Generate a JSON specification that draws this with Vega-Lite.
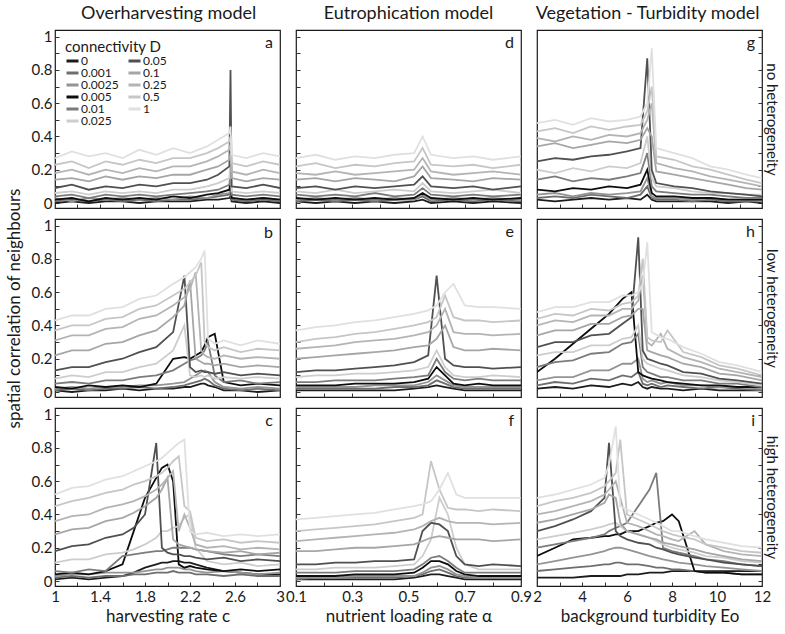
{
"$schema":"https://vega.github.io/schema/vega-lite/v6.json",
"padding":{"left":4,"top":5,"right":3,"bottom":2},
"config":{"font":"Lato","view":{"stroke":"#1a1a1a","strokeWidth":1.2},
"axis":{"grid":false,"domain":false,"tickSize":-4,"tickColor":"#333","labelPadding":7,"labelFontSize":15,"labelColor":"#1a1a1a","titleFontSize":17,"titleFontWeight":"normal","titleColor":"#1a1a1a","labelFlush":false,"labelOverlap":false},
"title":{"fontWeight":"normal","fontSize":18,"color":"#1a1a1a","offset":6}},
"datasets":{
"a":[
{"s":0,"x":1,"y":0},{"s":0,"x":1.15,"y":0.01},{"s":0,"x":1.3,"y":0},{"s":0,"x":1.45,"y":0.01},{"s":0,"x":1.6,"y":0.01},{"s":0,"x":1.75,"y":0},{"s":0,"x":1.9,"y":0.01},{"s":0,"x":2.05,"y":0.01},{"s":0,"x":2.2,"y":0.01},{"s":0,"x":2.35,"y":0.02},{"s":0,"x":2.45,"y":0.02},{"s":0,"x":2.55,"y":0.03},{"s":0,"x":2.56,"y":0.04},{"s":0,"x":2.57,"y":0.01},{"s":0,"x":2.7,"y":0},{"s":0,"x":2.85,"y":0.01},{"s":0,"x":3,"y":0},
{"s":1,"x":1,"y":0.01},{"s":1,"x":1.15,"y":0.02},{"s":1,"x":1.3,"y":0.01},{"s":1,"x":1.45,"y":0.02},{"s":1,"x":1.6,"y":0.01},{"s":1,"x":1.75,"y":0.02},{"s":1,"x":1.9,"y":0.01},{"s":1,"x":2.05,"y":0.02},{"s":1,"x":2.2,"y":0.02},{"s":1,"x":2.35,"y":0.03},{"s":1,"x":2.45,"y":0.04},{"s":1,"x":2.55,"y":0.05},{"s":1,"x":2.56,"y":0.07},{"s":1,"x":2.57,"y":0.02},{"s":1,"x":2.7,"y":0.01},{"s":1,"x":2.85,"y":0.02},{"s":1,"x":3,"y":0.01},
{"s":2,"x":1,"y":0.03},{"s":2,"x":1.15,"y":0.01},{"s":2,"x":1.3,"y":0.03},{"s":2,"x":1.45,"y":0.02},{"s":2,"x":1.6,"y":0.03},{"s":2,"x":1.75,"y":0.02},{"s":2,"x":1.9,"y":0.03},{"s":2,"x":2.05,"y":0.02},{"s":2,"x":2.2,"y":0.04},{"s":2,"x":2.35,"y":0.03},{"s":2,"x":2.45,"y":0.05},{"s":2,"x":2.55,"y":0.06},{"s":2,"x":2.56,"y":0.1},{"s":2,"x":2.57,"y":0.03},{"s":2,"x":2.7,"y":0.02},{"s":2,"x":2.85,"y":0.03},{"s":2,"x":3,"y":0.02},
{"s":3,"x":1,"y":0.02},{"s":3,"x":1.15,"y":0.03},{"s":3,"x":1.3,"y":0.01},{"s":3,"x":1.45,"y":0.03},{"s":3,"x":1.6,"y":0.02},{"s":3,"x":1.75,"y":0.03},{"s":3,"x":1.9,"y":0.02},{"s":3,"x":2.05,"y":0.04},{"s":3,"x":2.2,"y":0.03},{"s":3,"x":2.35,"y":0.05},{"s":3,"x":2.45,"y":0.06},{"s":3,"x":2.55,"y":0.08},{"s":3,"x":2.56,"y":0.14},{"s":3,"x":2.57,"y":0.03},{"s":3,"x":2.7,"y":0.02},{"s":3,"x":2.85,"y":0.03},{"s":3,"x":3,"y":0.02},
{"s":4,"x":1,"y":0.04},{"s":4,"x":1.15,"y":0.05},{"s":4,"x":1.3,"y":0.03},{"s":4,"x":1.45,"y":0.05},{"s":4,"x":1.6,"y":0.04},{"s":4,"x":1.75,"y":0.05},{"s":4,"x":1.9,"y":0.04},{"s":4,"x":2.05,"y":0.05},{"s":4,"x":2.2,"y":0.06},{"s":4,"x":2.35,"y":0.07},{"s":4,"x":2.45,"y":0.08},{"s":4,"x":2.55,"y":0.11},{"s":4,"x":2.56,"y":0.18},{"s":4,"x":2.57,"y":0.05},{"s":4,"x":2.7,"y":0.04},{"s":4,"x":2.85,"y":0.05},{"s":4,"x":3,"y":0.04},
{"s":5,"x":1,"y":0.06},{"s":5,"x":1.15,"y":0.07},{"s":5,"x":1.3,"y":0.05},{"s":5,"x":1.45,"y":0.07},{"s":5,"x":1.6,"y":0.06},{"s":5,"x":1.75,"y":0.07},{"s":5,"x":1.9,"y":0.06},{"s":5,"x":2.05,"y":0.08},{"s":5,"x":2.2,"y":0.08},{"s":5,"x":2.35,"y":0.1},{"s":5,"x":2.45,"y":0.12},{"s":5,"x":2.55,"y":0.15},{"s":5,"x":2.56,"y":0.25},{"s":5,"x":2.57,"y":0.07},{"s":5,"x":2.7,"y":0.06},{"s":5,"x":2.85,"y":0.07},{"s":5,"x":3,"y":0.06},
{"s":6,"x":1,"y":0.09},{"s":6,"x":1.15,"y":0.11},{"s":6,"x":1.3,"y":0.08},{"s":6,"x":1.45,"y":0.1},{"s":6,"x":1.6,"y":0.09},{"s":6,"x":1.75,"y":0.11},{"s":6,"x":1.9,"y":0.1},{"s":6,"x":2.05,"y":0.12},{"s":6,"x":2.2,"y":0.12},{"s":6,"x":2.35,"y":0.14},{"s":6,"x":2.45,"y":0.17},{"s":6,"x":2.55,"y":0.22},{"s":6,"x":2.56,"y":0.8},{"s":6,"x":2.57,"y":0.1},{"s":6,"x":2.7,"y":0.09},{"s":6,"x":2.85,"y":0.11},{"s":6,"x":3,"y":0.09},
{"s":7,"x":1,"y":0.14},{"s":7,"x":1.15,"y":0.15},{"s":7,"x":1.3,"y":0.13},{"s":7,"x":1.45,"y":0.16},{"s":7,"x":1.6,"y":0.14},{"s":7,"x":1.75,"y":0.16},{"s":7,"x":1.9,"y":0.15},{"s":7,"x":2.05,"y":0.17},{"s":7,"x":2.2,"y":0.17},{"s":7,"x":2.35,"y":0.2},{"s":7,"x":2.45,"y":0.22},{"s":7,"x":2.55,"y":0.26},{"s":7,"x":2.56,"y":0.3},{"s":7,"x":2.57,"y":0.15},{"s":7,"x":2.7,"y":0.13},{"s":7,"x":2.85,"y":0.15},{"s":7,"x":3,"y":0.14},
{"s":8,"x":1,"y":0.18},{"s":8,"x":1.15,"y":0.2},{"s":8,"x":1.3,"y":0.17},{"s":8,"x":1.45,"y":0.2},{"s":8,"x":1.6,"y":0.18},{"s":8,"x":1.75,"y":0.21},{"s":8,"x":1.9,"y":0.19},{"s":8,"x":2.05,"y":0.22},{"s":8,"x":2.2,"y":0.22},{"s":8,"x":2.35,"y":0.25},{"s":8,"x":2.45,"y":0.28},{"s":8,"x":2.55,"y":0.32},{"s":8,"x":2.56,"y":0.36},{"s":8,"x":2.57,"y":0.19},{"s":8,"x":2.7,"y":0.17},{"s":8,"x":2.85,"y":0.2},{"s":8,"x":3,"y":0.18},
{"s":9,"x":1,"y":0.23},{"s":9,"x":1.15,"y":0.25},{"s":9,"x":1.3,"y":0.21},{"s":9,"x":1.45,"y":0.25},{"s":9,"x":1.6,"y":0.23},{"s":9,"x":1.75,"y":0.26},{"s":9,"x":1.9,"y":0.24},{"s":9,"x":2.05,"y":0.27},{"s":9,"x":2.2,"y":0.27},{"s":9,"x":2.35,"y":0.3},{"s":9,"x":2.45,"y":0.33},{"s":9,"x":2.55,"y":0.37},{"s":9,"x":2.56,"y":0.4},{"s":9,"x":2.57,"y":0.24},{"s":9,"x":2.7,"y":0.22},{"s":9,"x":2.85,"y":0.25},{"s":9,"x":3,"y":0.23},
{"s":10,"x":1,"y":0.27},{"s":10,"x":1.15,"y":0.31},{"s":10,"x":1.3,"y":0.28},{"s":10,"x":1.45,"y":0.3},{"s":10,"x":1.6,"y":0.27},{"s":10,"x":1.75,"y":0.32},{"s":10,"x":1.9,"y":0.29},{"s":10,"x":2.05,"y":0.33},{"s":10,"x":2.2,"y":0.3},{"s":10,"x":2.35,"y":0.34},{"s":10,"x":2.45,"y":0.38},{"s":10,"x":2.55,"y":0.42},{"s":10,"x":2.56,"y":0.46},{"s":10,"x":2.57,"y":0.29},{"s":10,"x":2.7,"y":0.27},{"s":10,"x":2.85,"y":0.3},{"s":10,"x":3,"y":0.28}
],
"d":[
{"s":0,"x":0.1,"y":0.01},{"s":0,"x":0.17,"y":0},{"s":0,"x":0.24,"y":0.01},{"s":0,"x":0.31,"y":0},{"s":0,"x":0.38,"y":0.01},{"s":0,"x":0.45,"y":0},{"s":0,"x":0.52,"y":0.01},{"s":0,"x":0.55,"y":0.02},{"s":0,"x":0.58,"y":0},{"s":0,"x":0.66,"y":0.01},{"s":0,"x":0.73,"y":0},{"s":0,"x":0.8,"y":0.01},{"s":0,"x":0.9,"y":0},
{"s":1,"x":0.1,"y":0.01},{"s":1,"x":0.17,"y":0.02},{"s":1,"x":0.24,"y":0.01},{"s":1,"x":0.31,"y":0.02},{"s":1,"x":0.38,"y":0.01},{"s":1,"x":0.45,"y":0.02},{"s":1,"x":0.52,"y":0.02},{"s":1,"x":0.55,"y":0.04},{"s":1,"x":0.58,"y":0.01},{"s":1,"x":0.66,"y":0.02},{"s":1,"x":0.73,"y":0.01},{"s":1,"x":0.8,"y":0.02},{"s":1,"x":0.9,"y":0.01},
{"s":2,"x":0.1,"y":0.02},{"s":2,"x":0.17,"y":0.03},{"s":2,"x":0.24,"y":0.02},{"s":2,"x":0.31,"y":0.03},{"s":2,"x":0.38,"y":0.02},{"s":2,"x":0.45,"y":0.03},{"s":2,"x":0.52,"y":0.02},{"s":2,"x":0.55,"y":0.05},{"s":2,"x":0.58,"y":0.02},{"s":2,"x":0.66,"y":0.03},{"s":2,"x":0.73,"y":0.02},{"s":2,"x":0.8,"y":0.03},{"s":2,"x":0.9,"y":0.02},
{"s":3,"x":0.1,"y":0.03},{"s":3,"x":0.17,"y":0.02},{"s":3,"x":0.24,"y":0.03},{"s":3,"x":0.31,"y":0.02},{"s":3,"x":0.38,"y":0.03},{"s":3,"x":0.45,"y":0.02},{"s":3,"x":0.52,"y":0.03},{"s":3,"x":0.55,"y":0.06},{"s":3,"x":0.58,"y":0.03},{"s":3,"x":0.66,"y":0.02},{"s":3,"x":0.73,"y":0.03},{"s":3,"x":0.8,"y":0.02},{"s":3,"x":0.9,"y":0.03},
{"s":4,"x":0.1,"y":0.05},{"s":4,"x":0.17,"y":0.04},{"s":4,"x":0.24,"y":0.05},{"s":4,"x":0.31,"y":0.04},{"s":4,"x":0.38,"y":0.06},{"s":4,"x":0.45,"y":0.04},{"s":4,"x":0.52,"y":0.05},{"s":4,"x":0.55,"y":0.09},{"s":4,"x":0.58,"y":0.05},{"s":4,"x":0.66,"y":0.04},{"s":4,"x":0.73,"y":0.05},{"s":4,"x":0.8,"y":0.04},{"s":4,"x":0.9,"y":0.05},
{"s":5,"x":0.1,"y":0.07},{"s":5,"x":0.17,"y":0.06},{"s":5,"x":0.24,"y":0.08},{"s":5,"x":0.31,"y":0.06},{"s":5,"x":0.38,"y":0.07},{"s":5,"x":0.45,"y":0.08},{"s":5,"x":0.52,"y":0.07},{"s":5,"x":0.55,"y":0.12},{"s":5,"x":0.58,"y":0.07},{"s":5,"x":0.66,"y":0.06},{"s":5,"x":0.73,"y":0.07},{"s":5,"x":0.8,"y":0.08},{"s":5,"x":0.9,"y":0.06},
{"s":6,"x":0.1,"y":0.09},{"s":6,"x":0.17,"y":0.1},{"s":6,"x":0.24,"y":0.08},{"s":6,"x":0.31,"y":0.1},{"s":6,"x":0.38,"y":0.09},{"s":6,"x":0.45,"y":0.1},{"s":6,"x":0.52,"y":0.11},{"s":6,"x":0.55,"y":0.16},{"s":6,"x":0.58,"y":0.1},{"s":6,"x":0.66,"y":0.09},{"s":6,"x":0.73,"y":0.1},{"s":6,"x":0.8,"y":0.08},{"s":6,"x":0.9,"y":0.1},
{"s":7,"x":0.1,"y":0.14},{"s":7,"x":0.17,"y":0.15},{"s":7,"x":0.24,"y":0.13},{"s":7,"x":0.31,"y":0.15},{"s":7,"x":0.38,"y":0.14},{"s":7,"x":0.45,"y":0.13},{"s":7,"x":0.52,"y":0.16},{"s":7,"x":0.55,"y":0.22},{"s":7,"x":0.58,"y":0.15},{"s":7,"x":0.66,"y":0.14},{"s":7,"x":0.73,"y":0.13},{"s":7,"x":0.8,"y":0.15},{"s":7,"x":0.9,"y":0.14},
{"s":8,"x":0.1,"y":0.18},{"s":8,"x":0.17,"y":0.17},{"s":8,"x":0.24,"y":0.19},{"s":8,"x":0.31,"y":0.17},{"s":8,"x":0.38,"y":0.18},{"s":8,"x":0.45,"y":0.19},{"s":8,"x":0.52,"y":0.2},{"s":8,"x":0.55,"y":0.27},{"s":8,"x":0.58,"y":0.19},{"s":8,"x":0.66,"y":0.17},{"s":8,"x":0.73,"y":0.18},{"s":8,"x":0.8,"y":0.19},{"s":8,"x":0.9,"y":0.17},
{"s":9,"x":0.1,"y":0.22},{"s":9,"x":0.17,"y":0.24},{"s":9,"x":0.24,"y":0.21},{"s":9,"x":0.31,"y":0.23},{"s":9,"x":0.38,"y":0.22},{"s":9,"x":0.45,"y":0.24},{"s":9,"x":0.52,"y":0.25},{"s":9,"x":0.55,"y":0.33},{"s":9,"x":0.58,"y":0.23},{"s":9,"x":0.66,"y":0.22},{"s":9,"x":0.73,"y":0.23},{"s":9,"x":0.8,"y":0.21},{"s":9,"x":0.9,"y":0.23},
{"s":10,"x":0.1,"y":0.27},{"s":10,"x":0.17,"y":0.29},{"s":10,"x":0.24,"y":0.26},{"s":10,"x":0.31,"y":0.28},{"s":10,"x":0.38,"y":0.27},{"s":10,"x":0.45,"y":0.29},{"s":10,"x":0.52,"y":0.3},{"s":10,"x":0.55,"y":0.4},{"s":10,"x":0.58,"y":0.29},{"s":10,"x":0.66,"y":0.27},{"s":10,"x":0.73,"y":0.28},{"s":10,"x":0.8,"y":0.26},{"s":10,"x":0.9,"y":0.28}
],
"g":[
{"s":0,"x":2,"y":0.02},{"s":0,"x":2.8,"y":0.01},{"s":0,"x":3.6,"y":0.02},{"s":0,"x":4.4,"y":0.03},{"s":0,"x":5.2,"y":0.02},{"s":0,"x":6,"y":0.03},{"s":0,"x":6.6,"y":0.02},{"s":0,"x":6.9,"y":0.05},{"s":0,"x":7.1,"y":0.02},{"s":0,"x":7.3,"y":0.01},{"s":0,"x":8.1,"y":0.01},{"s":0,"x":8.9,"y":0.01},{"s":0,"x":9.7,"y":0.01},{"s":0,"x":10.5,"y":0},{"s":0,"x":11.3,"y":0.01},{"s":0,"x":12,"y":0},
{"s":1,"x":2,"y":0.03},{"s":1,"x":2.8,"y":0.04},{"s":1,"x":3.6,"y":0.03},{"s":1,"x":4.4,"y":0.05},{"s":1,"x":5.2,"y":0.04},{"s":1,"x":6,"y":0.03},{"s":1,"x":6.6,"y":0.05},{"s":1,"x":6.9,"y":0.1},{"s":1,"x":7.1,"y":0.03},{"s":1,"x":7.3,"y":0.02},{"s":1,"x":8.1,"y":0.02},{"s":1,"x":8.9,"y":0.01},{"s":1,"x":9.7,"y":0.02},{"s":1,"x":10.5,"y":0.01},{"s":1,"x":11.3,"y":0.01},{"s":1,"x":12,"y":0.01},
{"s":2,"x":2,"y":0.05},{"s":2,"x":2.8,"y":0.06},{"s":2,"x":3.6,"y":0.04},{"s":2,"x":4.4,"y":0.06},{"s":2,"x":5.2,"y":0.05},{"s":2,"x":6,"y":0.06},{"s":2,"x":6.6,"y":0.07},{"s":2,"x":6.9,"y":0.15},{"s":2,"x":7.1,"y":0.04},{"s":2,"x":7.3,"y":0.03},{"s":2,"x":8.1,"y":0.03},{"s":2,"x":8.9,"y":0.02},{"s":2,"x":9.7,"y":0.03},{"s":2,"x":10.5,"y":0.02},{"s":2,"x":11.3,"y":0.02},{"s":2,"x":12,"y":0.01},
{"s":3,"x":2,"y":0.08},{"s":3,"x":2.8,"y":0.07},{"s":3,"x":3.6,"y":0.09},{"s":3,"x":4.4,"y":0.08},{"s":3,"x":5.2,"y":0.1},{"s":3,"x":6,"y":0.09},{"s":3,"x":6.6,"y":0.11},{"s":3,"x":6.9,"y":0.2},{"s":3,"x":7.1,"y":0.06},{"s":3,"x":7.3,"y":0.04},{"s":3,"x":8.1,"y":0.04},{"s":3,"x":8.9,"y":0.03},{"s":3,"x":9.7,"y":0.03},{"s":3,"x":10.5,"y":0.02},{"s":3,"x":11.3,"y":0.02},{"s":3,"x":12,"y":0.02},
{"s":4,"x":2,"y":0.14},{"s":4,"x":2.8,"y":0.16},{"s":4,"x":3.6,"y":0.13},{"s":4,"x":4.4,"y":0.15},{"s":4,"x":5.2,"y":0.14},{"s":4,"x":6,"y":0.16},{"s":4,"x":6.6,"y":0.18},{"s":4,"x":6.9,"y":0.3},{"s":4,"x":7.1,"y":0.1},{"s":4,"x":7.3,"y":0.07},{"s":4,"x":8.1,"y":0.06},{"s":4,"x":8.9,"y":0.05},{"s":4,"x":9.7,"y":0.05},{"s":4,"x":10.5,"y":0.04},{"s":4,"x":11.3,"y":0.03},{"s":4,"x":12,"y":0.03},
{"s":5,"x":2,"y":0.2},{"s":5,"x":2.8,"y":0.18},{"s":5,"x":3.6,"y":0.21},{"s":5,"x":4.4,"y":0.19},{"s":5,"x":5.2,"y":0.22},{"s":5,"x":6,"y":0.21},{"s":5,"x":6.6,"y":0.24},{"s":5,"x":6.9,"y":0.4},{"s":5,"x":7.1,"y":0.15},{"s":5,"x":7.3,"y":0.1},{"s":5,"x":8.1,"y":0.09},{"s":5,"x":8.9,"y":0.07},{"s":5,"x":9.7,"y":0.06},{"s":5,"x":10.5,"y":0.06},{"s":5,"x":11.3,"y":0.05},{"s":5,"x":12,"y":0.05},
{"s":6,"x":2,"y":0.25},{"s":6,"x":2.8,"y":0.27},{"s":6,"x":3.6,"y":0.26},{"s":6,"x":4.4,"y":0.28},{"s":6,"x":5.2,"y":0.29},{"s":6,"x":6,"y":0.31},{"s":6,"x":6.6,"y":0.33},{"s":6,"x":6.9,"y":0.87},{"s":6,"x":7.1,"y":0.2},{"s":6,"x":7.3,"y":0.12},{"s":6,"x":8.1,"y":0.1},{"s":6,"x":8.9,"y":0.09},{"s":6,"x":9.7,"y":0.07},{"s":6,"x":10.5,"y":0.06},{"s":6,"x":11.3,"y":0.05},{"s":6,"x":12,"y":0.04},
{"s":7,"x":2,"y":0.34},{"s":7,"x":2.8,"y":0.36},{"s":7,"x":3.6,"y":0.33},{"s":7,"x":4.4,"y":0.35},{"s":7,"x":5.2,"y":0.37},{"s":7,"x":6,"y":0.36},{"s":7,"x":6.6,"y":0.38},{"s":7,"x":6.9,"y":0.45},{"s":7,"x":7.1,"y":0.4},{"s":7,"x":7.3,"y":0.19},{"s":7,"x":8.1,"y":0.17},{"s":7,"x":8.9,"y":0.15},{"s":7,"x":9.7,"y":0.13},{"s":7,"x":10.5,"y":0.11},{"s":7,"x":11.3,"y":0.09},{"s":7,"x":12,"y":0.08},
{"s":8,"x":2,"y":0.39},{"s":8,"x":2.8,"y":0.37},{"s":8,"x":3.6,"y":0.4},{"s":8,"x":4.4,"y":0.38},{"s":8,"x":5.2,"y":0.41},{"s":8,"x":6,"y":0.4},{"s":8,"x":6.6,"y":0.42},{"s":8,"x":6.9,"y":0.5},{"s":8,"x":7.1,"y":0.6},{"s":8,"x":7.3,"y":0.24},{"s":8,"x":8.1,"y":0.21},{"s":8,"x":8.9,"y":0.19},{"s":8,"x":9.7,"y":0.16},{"s":8,"x":10.5,"y":0.14},{"s":8,"x":11.3,"y":0.12},{"s":8,"x":12,"y":0.1},
{"s":9,"x":2,"y":0.43},{"s":9,"x":2.8,"y":0.45},{"s":9,"x":3.6,"y":0.42},{"s":9,"x":4.4,"y":0.46},{"s":9,"x":5.2,"y":0.44},{"s":9,"x":6,"y":0.46},{"s":9,"x":6.6,"y":0.47},{"s":9,"x":6.9,"y":0.55},{"s":9,"x":7.1,"y":0.7},{"s":9,"x":7.3,"y":0.28},{"s":9,"x":8.1,"y":0.26},{"s":9,"x":8.9,"y":0.22},{"s":9,"x":9.7,"y":0.2},{"s":9,"x":10.5,"y":0.17},{"s":9,"x":11.3,"y":0.14},{"s":9,"x":12,"y":0.12},
{"s":10,"x":2,"y":0.48},{"s":10,"x":2.8,"y":0.5},{"s":10,"x":3.6,"y":0.47},{"s":10,"x":4.4,"y":0.51},{"s":10,"x":5.2,"y":0.49},{"s":10,"x":6,"y":0.5},{"s":10,"x":6.6,"y":0.52},{"s":10,"x":6.9,"y":0.6},{"s":10,"x":7.1,"y":0.93},{"s":10,"x":7.3,"y":0.33},{"s":10,"x":8.1,"y":0.3},{"s":10,"x":8.9,"y":0.27},{"s":10,"x":9.7,"y":0.22},{"s":10,"x":10.5,"y":0.2},{"s":10,"x":11.3,"y":0.17},{"s":10,"x":12,"y":0.15}
],
"b":[
{"s":0,"x":1,"y":0.01},{"s":0,"x":1.15,"y":0},{"s":0,"x":1.3,"y":0.01},{"s":0,"x":1.45,"y":0.01},{"s":0,"x":1.6,"y":0.02},{"s":0,"x":1.75,"y":0.01},{"s":0,"x":1.9,"y":0.02},{"s":0,"x":2.05,"y":0.02},{"s":0,"x":2.15,"y":0.03},{"s":0,"x":2.2,"y":0.03},{"s":0,"x":2.25,"y":0.04},{"s":0,"x":2.3,"y":0.05},{"s":0,"x":2.33,"y":0.05},{"s":0,"x":2.36,"y":0.04},{"s":0,"x":2.42,"y":0.03},{"s":0,"x":2.5,"y":0.01},{"s":0,"x":2.65,"y":0.01},{"s":0,"x":2.8,"y":0},{"s":0,"x":3,"y":0.01},
{"s":1,"x":1,"y":0.01},{"s":1,"x":1.15,"y":0.02},{"s":1,"x":1.3,"y":0.01},{"s":1,"x":1.45,"y":0.02},{"s":1,"x":1.6,"y":0.02},{"s":1,"x":1.75,"y":0.03},{"s":1,"x":1.9,"y":0.02},{"s":1,"x":2.05,"y":0.03},{"s":1,"x":2.15,"y":0.04},{"s":1,"x":2.2,"y":0.05},{"s":1,"x":2.25,"y":0.06},{"s":1,"x":2.3,"y":0.07},{"s":1,"x":2.33,"y":0.08},{"s":1,"x":2.36,"y":0.07},{"s":1,"x":2.42,"y":0.04},{"s":1,"x":2.5,"y":0.02},{"s":1,"x":2.65,"y":0.01},{"s":1,"x":2.8,"y":0.02},{"s":1,"x":3,"y":0.01},
{"s":2,"x":1,"y":0.02},{"s":2,"x":1.15,"y":0.03},{"s":2,"x":1.3,"y":0.02},{"s":2,"x":1.45,"y":0.03},{"s":2,"x":1.6,"y":0.03},{"s":2,"x":1.75,"y":0.04},{"s":2,"x":1.9,"y":0.04},{"s":2,"x":2.05,"y":0.05},{"s":2,"x":2.15,"y":0.06},{"s":2,"x":2.2,"y":0.08},{"s":2,"x":2.25,"y":0.1},{"s":2,"x":2.3,"y":0.12},{"s":2,"x":2.33,"y":0.13},{"s":2,"x":2.36,"y":0.12},{"s":2,"x":2.42,"y":0.06},{"s":2,"x":2.5,"y":0.03},{"s":2,"x":2.65,"y":0.02},{"s":2,"x":2.8,"y":0.03},{"s":2,"x":3,"y":0.02},
{"s":3,"x":1,"y":0.03},{"s":3,"x":1.15,"y":0.02},{"s":3,"x":1.3,"y":0.04},{"s":3,"x":1.45,"y":0.03},{"s":3,"x":1.6,"y":0.04},{"s":3,"x":1.75,"y":0.03},{"s":3,"x":1.9,"y":0.05},{"s":3,"x":2.05,"y":0.2},{"s":3,"x":2.15,"y":0.21},{"s":3,"x":2.2,"y":0.2},{"s":3,"x":2.25,"y":0.22},{"s":3,"x":2.3,"y":0.24},{"s":3,"x":2.33,"y":0.28},{"s":3,"x":2.36,"y":0.33},{"s":3,"x":2.42,"y":0.35},{"s":3,"x":2.5,"y":0.06},{"s":3,"x":2.65,"y":0.04},{"s":3,"x":2.8,"y":0.05},{"s":3,"x":3,"y":0.04},
{"s":4,"x":1,"y":0.05},{"s":4,"x":1.15,"y":0.06},{"s":4,"x":1.3,"y":0.05},{"s":4,"x":1.45,"y":0.07},{"s":4,"x":1.6,"y":0.07},{"s":4,"x":1.75,"y":0.09},{"s":4,"x":1.9,"y":0.1},{"s":4,"x":2.05,"y":0.13},{"s":4,"x":2.15,"y":0.17},{"s":4,"x":2.2,"y":0.19},{"s":4,"x":2.25,"y":0.2},{"s":4,"x":2.3,"y":0.22},{"s":4,"x":2.33,"y":0.25},{"s":4,"x":2.36,"y":0.3},{"s":4,"x":2.42,"y":0.1},{"s":4,"x":2.5,"y":0.06},{"s":4,"x":2.65,"y":0.07},{"s":4,"x":2.8,"y":0.05},{"s":4,"x":3,"y":0.06},
{"s":5,"x":1,"y":0.08},{"s":5,"x":1.15,"y":0.1},{"s":5,"x":1.3,"y":0.09},{"s":5,"x":1.45,"y":0.12},{"s":5,"x":1.6,"y":0.12},{"s":5,"x":1.75,"y":0.15},{"s":5,"x":1.9,"y":0.17},{"s":5,"x":2.05,"y":0.25},{"s":5,"x":2.15,"y":0.4},{"s":5,"x":2.2,"y":0.1},{"s":5,"x":2.25,"y":0.09},{"s":5,"x":2.3,"y":0.1},{"s":5,"x":2.33,"y":0.09},{"s":5,"x":2.36,"y":0.1},{"s":5,"x":2.42,"y":0.08},{"s":5,"x":2.5,"y":0.09},{"s":5,"x":2.65,"y":0.08},{"s":5,"x":2.8,"y":0.09},{"s":5,"x":3,"y":0.08},
{"s":6,"x":1,"y":0.13},{"s":6,"x":1.15,"y":0.15},{"s":6,"x":1.3,"y":0.15},{"s":6,"x":1.45,"y":0.18},{"s":6,"x":1.6,"y":0.2},{"s":6,"x":1.75,"y":0.24},{"s":6,"x":1.9,"y":0.27},{"s":6,"x":2.05,"y":0.36},{"s":6,"x":2.15,"y":0.7},{"s":6,"x":2.2,"y":0.15},{"s":6,"x":2.25,"y":0.12},{"s":6,"x":2.3,"y":0.13},{"s":6,"x":2.33,"y":0.12},{"s":6,"x":2.36,"y":0.12},{"s":6,"x":2.42,"y":0.11},{"s":6,"x":2.5,"y":0.12},{"s":6,"x":2.65,"y":0.1},{"s":6,"x":2.8,"y":0.11},{"s":6,"x":3,"y":0.1},
{"s":7,"x":1,"y":0.22},{"s":7,"x":1.15,"y":0.25},{"s":7,"x":1.3,"y":0.25},{"s":7,"x":1.45,"y":0.29},{"s":7,"x":1.6,"y":0.3},{"s":7,"x":1.75,"y":0.34},{"s":7,"x":1.9,"y":0.37},{"s":7,"x":2.05,"y":0.45},{"s":7,"x":2.15,"y":0.52},{"s":7,"x":2.2,"y":0.67},{"s":7,"x":2.25,"y":0.2},{"s":7,"x":2.3,"y":0.18},{"s":7,"x":2.33,"y":0.17},{"s":7,"x":2.36,"y":0.17},{"s":7,"x":2.42,"y":0.16},{"s":7,"x":2.5,"y":0.17},{"s":7,"x":2.65,"y":0.15},{"s":7,"x":2.8,"y":0.16},{"s":7,"x":3,"y":0.15},
{"s":8,"x":1,"y":0.31},{"s":8,"x":1.15,"y":0.34},{"s":8,"x":1.3,"y":0.34},{"s":8,"x":1.45,"y":0.38},{"s":8,"x":1.6,"y":0.39},{"s":8,"x":1.75,"y":0.44},{"s":8,"x":1.9,"y":0.46},{"s":8,"x":2.05,"y":0.52},{"s":8,"x":2.15,"y":0.57},{"s":8,"x":2.2,"y":0.62},{"s":8,"x":2.25,"y":0.72},{"s":8,"x":2.3,"y":0.25},{"s":8,"x":2.33,"y":0.22},{"s":8,"x":2.36,"y":0.21},{"s":8,"x":2.42,"y":0.2},{"s":8,"x":2.5,"y":0.22},{"s":8,"x":2.65,"y":0.2},{"s":8,"x":2.8,"y":0.21},{"s":8,"x":3,"y":0.2},
{"s":9,"x":1,"y":0.37},{"s":9,"x":1.15,"y":0.4},{"s":9,"x":1.3,"y":0.4},{"s":9,"x":1.45,"y":0.44},{"s":9,"x":1.6,"y":0.45},{"s":9,"x":1.75,"y":0.5},{"s":9,"x":1.9,"y":0.52},{"s":9,"x":2.05,"y":0.58},{"s":9,"x":2.15,"y":0.62},{"s":9,"x":2.2,"y":0.66},{"s":9,"x":2.25,"y":0.7},{"s":9,"x":2.3,"y":0.78},{"s":9,"x":2.33,"y":0.3},{"s":9,"x":2.36,"y":0.27},{"s":9,"x":2.42,"y":0.25},{"s":9,"x":2.5,"y":0.27},{"s":9,"x":2.65,"y":0.24},{"s":9,"x":2.8,"y":0.26},{"s":9,"x":3,"y":0.25},
{"s":10,"x":1,"y":0.43},{"s":10,"x":1.15,"y":0.46},{"s":10,"x":1.3,"y":0.46},{"s":10,"x":1.45,"y":0.5},{"s":10,"x":1.6,"y":0.51},{"s":10,"x":1.75,"y":0.56},{"s":10,"x":1.9,"y":0.58},{"s":10,"x":2.05,"y":0.65},{"s":10,"x":2.15,"y":0.69},{"s":10,"x":2.2,"y":0.72},{"s":10,"x":2.25,"y":0.75},{"s":10,"x":2.3,"y":0.8},{"s":10,"x":2.33,"y":0.85},{"s":10,"x":2.36,"y":0.32},{"s":10,"x":2.42,"y":0.29},{"s":10,"x":2.5,"y":0.31},{"s":10,"x":2.65,"y":0.28},{"s":10,"x":2.8,"y":0.31},{"s":10,"x":3,"y":0.29}
],
"e":[
{"s":0,"x":0.1,"y":0.01},{"s":0,"x":0.17,"y":0.01},{"s":0,"x":0.24,"y":0.01},{"s":0,"x":0.31,"y":0.01},{"s":0,"x":0.38,"y":0.01},{"s":0,"x":0.45,"y":0.01},{"s":0,"x":0.52,"y":0.02},{"s":0,"x":0.57,"y":0.03},{"s":0,"x":0.6,"y":0.04},{"s":0,"x":0.63,"y":0.03},{"s":0,"x":0.66,"y":0.02},{"s":0,"x":0.7,"y":0.01},{"s":0,"x":0.75,"y":0.01},{"s":0,"x":0.8,"y":0.01},{"s":0,"x":0.9,"y":0.01},
{"s":1,"x":0.1,"y":0.02},{"s":1,"x":0.17,"y":0.02},{"s":1,"x":0.24,"y":0.02},{"s":1,"x":0.31,"y":0.02},{"s":1,"x":0.38,"y":0.02},{"s":1,"x":0.45,"y":0.03},{"s":1,"x":0.52,"y":0.03},{"s":1,"x":0.57,"y":0.04},{"s":1,"x":0.6,"y":0.07},{"s":1,"x":0.63,"y":0.05},{"s":1,"x":0.66,"y":0.03},{"s":1,"x":0.7,"y":0.02},{"s":1,"x":0.75,"y":0.02},{"s":1,"x":0.8,"y":0.02},{"s":1,"x":0.9,"y":0.02},
{"s":2,"x":0.1,"y":0.03},{"s":2,"x":0.17,"y":0.03},{"s":2,"x":0.24,"y":0.03},{"s":2,"x":0.31,"y":0.03},{"s":2,"x":0.38,"y":0.04},{"s":2,"x":0.45,"y":0.04},{"s":2,"x":0.52,"y":0.04},{"s":2,"x":0.57,"y":0.06},{"s":2,"x":0.6,"y":0.1},{"s":2,"x":0.63,"y":0.07},{"s":2,"x":0.66,"y":0.04},{"s":2,"x":0.7,"y":0.03},{"s":2,"x":0.75,"y":0.03},{"s":2,"x":0.8,"y":0.03},{"s":2,"x":0.9,"y":0.03},
{"s":3,"x":0.1,"y":0.04},{"s":3,"x":0.17,"y":0.04},{"s":3,"x":0.24,"y":0.04},{"s":3,"x":0.31,"y":0.05},{"s":3,"x":0.38,"y":0.05},{"s":3,"x":0.45,"y":0.05},{"s":3,"x":0.52,"y":0.06},{"s":3,"x":0.57,"y":0.08},{"s":3,"x":0.6,"y":0.15},{"s":3,"x":0.63,"y":0.1},{"s":3,"x":0.66,"y":0.05},{"s":3,"x":0.7,"y":0.04},{"s":3,"x":0.75,"y":0.05},{"s":3,"x":0.8,"y":0.04},{"s":3,"x":0.9,"y":0.04},
{"s":4,"x":0.1,"y":0.06},{"s":4,"x":0.17,"y":0.06},{"s":4,"x":0.24,"y":0.07},{"s":4,"x":0.31,"y":0.07},{"s":4,"x":0.38,"y":0.07},{"s":4,"x":0.45,"y":0.08},{"s":4,"x":0.52,"y":0.09},{"s":4,"x":0.57,"y":0.1},{"s":4,"x":0.6,"y":0.2},{"s":4,"x":0.63,"y":0.12},{"s":4,"x":0.66,"y":0.08},{"s":4,"x":0.7,"y":0.07},{"s":4,"x":0.75,"y":0.08},{"s":4,"x":0.8,"y":0.07},{"s":4,"x":0.9,"y":0.07},
{"s":5,"x":0.1,"y":0.09},{"s":5,"x":0.17,"y":0.1},{"s":5,"x":0.24,"y":0.1},{"s":5,"x":0.31,"y":0.11},{"s":5,"x":0.38,"y":0.11},{"s":5,"x":0.45,"y":0.12},{"s":5,"x":0.52,"y":0.13},{"s":5,"x":0.57,"y":0.15},{"s":5,"x":0.6,"y":0.25},{"s":5,"x":0.63,"y":0.15},{"s":5,"x":0.66,"y":0.1},{"s":5,"x":0.7,"y":0.09},{"s":5,"x":0.75,"y":0.09},{"s":5,"x":0.8,"y":0.1},{"s":5,"x":0.9,"y":0.09},
{"s":6,"x":0.1,"y":0.12},{"s":6,"x":0.17,"y":0.13},{"s":6,"x":0.24,"y":0.13},{"s":6,"x":0.31,"y":0.14},{"s":6,"x":0.38,"y":0.15},{"s":6,"x":0.45,"y":0.16},{"s":6,"x":0.52,"y":0.18},{"s":6,"x":0.57,"y":0.22},{"s":6,"x":0.6,"y":0.7},{"s":6,"x":0.63,"y":0.2},{"s":6,"x":0.66,"y":0.16},{"s":6,"x":0.7,"y":0.15},{"s":6,"x":0.75,"y":0.15},{"s":6,"x":0.8,"y":0.14},{"s":6,"x":0.9,"y":0.15},
{"s":7,"x":0.1,"y":0.2},{"s":7,"x":0.17,"y":0.21},{"s":7,"x":0.24,"y":0.22},{"s":7,"x":0.31,"y":0.23},{"s":7,"x":0.38,"y":0.24},{"s":7,"x":0.45,"y":0.25},{"s":7,"x":0.52,"y":0.27},{"s":7,"x":0.57,"y":0.28},{"s":7,"x":0.6,"y":0.32},{"s":7,"x":0.63,"y":0.4},{"s":7,"x":0.66,"y":0.27},{"s":7,"x":0.7,"y":0.25},{"s":7,"x":0.75,"y":0.25},{"s":7,"x":0.8,"y":0.26},{"s":7,"x":0.9,"y":0.25},
{"s":8,"x":0.1,"y":0.26},{"s":8,"x":0.17,"y":0.27},{"s":8,"x":0.24,"y":0.28},{"s":8,"x":0.31,"y":0.3},{"s":8,"x":0.38,"y":0.31},{"s":8,"x":0.45,"y":0.32},{"s":8,"x":0.52,"y":0.34},{"s":8,"x":0.57,"y":0.36},{"s":8,"x":0.6,"y":0.4},{"s":8,"x":0.63,"y":0.5},{"s":8,"x":0.66,"y":0.36},{"s":8,"x":0.7,"y":0.35},{"s":8,"x":0.75,"y":0.35},{"s":8,"x":0.8,"y":0.34},{"s":8,"x":0.9,"y":0.35},
{"s":9,"x":0.1,"y":0.3},{"s":9,"x":0.17,"y":0.32},{"s":9,"x":0.24,"y":0.33},{"s":9,"x":0.31,"y":0.35},{"s":9,"x":0.38,"y":0.36},{"s":9,"x":0.45,"y":0.38},{"s":9,"x":0.52,"y":0.4},{"s":9,"x":0.57,"y":0.42},{"s":9,"x":0.6,"y":0.45},{"s":9,"x":0.63,"y":0.58},{"s":9,"x":0.66,"y":0.45},{"s":9,"x":0.7,"y":0.43},{"s":9,"x":0.75,"y":0.43},{"s":9,"x":0.8,"y":0.42},{"s":9,"x":0.9,"y":0.43},
{"s":10,"x":0.1,"y":0.37},{"s":10,"x":0.17,"y":0.39},{"s":10,"x":0.24,"y":0.4},{"s":10,"x":0.31,"y":0.42},{"s":10,"x":0.38,"y":0.43},{"s":10,"x":0.45,"y":0.45},{"s":10,"x":0.52,"y":0.47},{"s":10,"x":0.57,"y":0.49},{"s":10,"x":0.6,"y":0.52},{"s":10,"x":0.63,"y":0.6},{"s":10,"x":0.66,"y":0.65},{"s":10,"x":0.7,"y":0.52},{"s":10,"x":0.75,"y":0.51},{"s":10,"x":0.8,"y":0.51},{"s":10,"x":0.9,"y":0.5}
],
"h":[
{"s":0,"x":2,"y":0.02},{"s":0,"x":2.8,"y":0.03},{"s":0,"x":3.6,"y":0.02},{"s":0,"x":4.4,"y":0.04},{"s":0,"x":5.2,"y":0.03},{"s":0,"x":5.8,"y":0.05},{"s":0,"x":6.2,"y":0.04},{"s":0,"x":6.5,"y":0.06},{"s":0,"x":6.7,"y":0.03},{"s":0,"x":6.9,"y":0.02},{"s":0,"x":7.1,"y":0.03},{"s":0,"x":7.5,"y":0.02},{"s":0,"x":7.8,"y":0.02},{"s":0,"x":8.5,"y":0.01},{"s":0,"x":9.3,"y":0.02},{"s":0,"x":10.1,"y":0.01},{"s":0,"x":10.9,"y":0.01},{"s":0,"x":12,"y":0.01},
{"s":1,"x":2,"y":0.04},{"s":1,"x":2.8,"y":0.06},{"s":1,"x":3.6,"y":0.05},{"s":1,"x":4.4,"y":0.08},{"s":1,"x":5.2,"y":0.07},{"s":1,"x":5.8,"y":0.1},{"s":1,"x":6.2,"y":0.09},{"s":1,"x":6.5,"y":0.12},{"s":1,"x":6.7,"y":0.05},{"s":1,"x":6.9,"y":0.04},{"s":1,"x":7.1,"y":0.05},{"s":1,"x":7.5,"y":0.03},{"s":1,"x":7.8,"y":0.04},{"s":1,"x":8.5,"y":0.03},{"s":1,"x":9.3,"y":0.02},{"s":1,"x":10.1,"y":0.03},{"s":1,"x":10.9,"y":0.02},{"s":1,"x":12,"y":0.01},
{"s":2,"x":2,"y":0.07},{"s":2,"x":2.8,"y":0.09},{"s":2,"x":3.6,"y":0.09},{"s":2,"x":4.4,"y":0.13},{"s":2,"x":5.2,"y":0.13},{"s":2,"x":5.8,"y":0.17},{"s":2,"x":6.2,"y":0.17},{"s":2,"x":6.5,"y":0.2},{"s":2,"x":6.7,"y":0.08},{"s":2,"x":6.9,"y":0.06},{"s":2,"x":7.1,"y":0.07},{"s":2,"x":7.5,"y":0.05},{"s":2,"x":7.8,"y":0.06},{"s":2,"x":8.5,"y":0.04},{"s":2,"x":9.3,"y":0.04},{"s":2,"x":10.1,"y":0.03},{"s":2,"x":10.9,"y":0.03},{"s":2,"x":12,"y":0.02},
{"s":3,"x":2,"y":0.12},{"s":3,"x":2.8,"y":0.2},{"s":3,"x":3.6,"y":0.29},{"s":3,"x":4.4,"y":0.38},{"s":3,"x":5.2,"y":0.47},{"s":3,"x":5.8,"y":0.56},{"s":3,"x":6.2,"y":0.6},{"s":3,"x":6.5,"y":0.12},{"s":3,"x":6.7,"y":0.1},{"s":3,"x":6.9,"y":0.09},{"s":3,"x":7.1,"y":0.08},{"s":3,"x":7.5,"y":0.07},{"s":3,"x":7.8,"y":0.06},{"s":3,"x":8.5,"y":0.05},{"s":3,"x":9.3,"y":0.04},{"s":3,"x":10.1,"y":0.04},{"s":3,"x":10.9,"y":0.03},{"s":3,"x":12,"y":0.03},
{"s":4,"x":2,"y":0.15},{"s":4,"x":2.8,"y":0.18},{"s":4,"x":3.6,"y":0.19},{"s":4,"x":4.4,"y":0.23},{"s":4,"x":5.2,"y":0.24},{"s":4,"x":5.8,"y":0.29},{"s":4,"x":6.2,"y":0.3},{"s":4,"x":6.5,"y":0.35},{"s":4,"x":6.7,"y":0.15},{"s":4,"x":6.9,"y":0.12},{"s":4,"x":7.1,"y":0.11},{"s":4,"x":7.5,"y":0.09},{"s":4,"x":7.8,"y":0.09},{"s":4,"x":8.5,"y":0.07},{"s":4,"x":9.3,"y":0.07},{"s":4,"x":10.1,"y":0.05},{"s":4,"x":10.9,"y":0.05},{"s":4,"x":12,"y":0.03},
{"s":5,"x":2,"y":0.22},{"s":5,"x":2.8,"y":0.24},{"s":5,"x":3.6,"y":0.24},{"s":5,"x":4.4,"y":0.28},{"s":5,"x":5.2,"y":0.28},{"s":5,"x":5.8,"y":0.32},{"s":5,"x":6.2,"y":0.33},{"s":5,"x":6.5,"y":0.4},{"s":5,"x":6.7,"y":0.2},{"s":5,"x":6.9,"y":0.17},{"s":5,"x":7.1,"y":0.16},{"s":5,"x":7.5,"y":0.14},{"s":5,"x":7.8,"y":0.13},{"s":5,"x":8.5,"y":0.1},{"s":5,"x":9.3,"y":0.09},{"s":5,"x":10.1,"y":0.07},{"s":5,"x":10.9,"y":0.06},{"s":5,"x":12,"y":0.04},
{"s":6,"x":2,"y":0.27},{"s":6,"x":2.8,"y":0.3},{"s":6,"x":3.6,"y":0.3},{"s":6,"x":4.4,"y":0.34},{"s":6,"x":5.2,"y":0.35},{"s":6,"x":5.8,"y":0.41},{"s":6,"x":6.2,"y":0.45},{"s":6,"x":6.5,"y":0.93},{"s":6,"x":6.7,"y":0.25},{"s":6,"x":6.9,"y":0.2},{"s":6,"x":7.1,"y":0.19},{"s":6,"x":7.5,"y":0.17},{"s":6,"x":7.8,"y":0.16},{"s":6,"x":8.5,"y":0.12},{"s":6,"x":9.3,"y":0.11},{"s":6,"x":10.1,"y":0.08},{"s":6,"x":10.9,"y":0.07},{"s":6,"x":12,"y":0.05},
{"s":7,"x":2,"y":0.34},{"s":7,"x":2.8,"y":0.37},{"s":7,"x":3.6,"y":0.37},{"s":7,"x":4.4,"y":0.41},{"s":7,"x":5.2,"y":0.41},{"s":7,"x":5.8,"y":0.45},{"s":7,"x":6.2,"y":0.46},{"s":7,"x":6.5,"y":0.5},{"s":7,"x":6.7,"y":0.5},{"s":7,"x":6.9,"y":0.25},{"s":7,"x":7.1,"y":0.24},{"s":7,"x":7.5,"y":0.22},{"s":7,"x":7.8,"y":0.21},{"s":7,"x":8.5,"y":0.17},{"s":7,"x":9.3,"y":0.15},{"s":7,"x":10.1,"y":0.11},{"s":7,"x":10.9,"y":0.1},{"s":7,"x":12,"y":0.07},
{"s":8,"x":2,"y":0.4},{"s":8,"x":2.8,"y":0.43},{"s":8,"x":3.6,"y":0.42},{"s":8,"x":4.4,"y":0.46},{"s":8,"x":5.2,"y":0.46},{"s":8,"x":5.8,"y":0.5},{"s":8,"x":6.2,"y":0.5},{"s":8,"x":6.5,"y":0.55},{"s":8,"x":6.7,"y":0.7},{"s":8,"x":6.9,"y":0.3},{"s":8,"x":7.1,"y":0.28},{"s":8,"x":7.5,"y":0.35},{"s":8,"x":7.8,"y":0.26},{"s":8,"x":8.5,"y":0.21},{"s":8,"x":9.3,"y":0.18},{"s":8,"x":10.1,"y":0.14},{"s":8,"x":10.9,"y":0.12},{"s":8,"x":12,"y":0.09},
{"s":9,"x":2,"y":0.44},{"s":9,"x":2.8,"y":0.47},{"s":9,"x":3.6,"y":0.46},{"s":9,"x":4.4,"y":0.5},{"s":9,"x":5.2,"y":0.49},{"s":9,"x":5.8,"y":0.53},{"s":9,"x":6.2,"y":0.54},{"s":9,"x":6.5,"y":0.58},{"s":9,"x":6.7,"y":0.8},{"s":9,"x":6.9,"y":0.33},{"s":9,"x":7.1,"y":0.31},{"s":9,"x":7.5,"y":0.3},{"s":9,"x":7.8,"y":0.37},{"s":9,"x":8.5,"y":0.24},{"s":9,"x":9.3,"y":0.21},{"s":9,"x":10.1,"y":0.16},{"s":9,"x":10.9,"y":0.14},{"s":9,"x":12,"y":0.1},
{"s":10,"x":2,"y":0.48},{"s":10,"x":2.8,"y":0.51},{"s":10,"x":3.6,"y":0.51},{"s":10,"x":4.4,"y":0.54},{"s":10,"x":5.2,"y":0.54},{"s":10,"x":5.8,"y":0.58},{"s":10,"x":6.2,"y":0.58},{"s":10,"x":6.5,"y":0.6},{"s":10,"x":6.7,"y":0.65},{"s":10,"x":6.9,"y":0.9},{"s":10,"x":7.1,"y":0.36},{"s":10,"x":7.5,"y":0.33},{"s":10,"x":7.8,"y":0.32},{"s":10,"x":8.5,"y":0.27},{"s":10,"x":9.3,"y":0.23},{"s":10,"x":10.1,"y":0.18},{"s":10,"x":10.9,"y":0.16},{"s":10,"x":12,"y":0.12}
],
"c":[
{"s":0,"x":1,"y":0.01},{"s":0,"x":1.15,"y":0.02},{"s":0,"x":1.3,"y":0.01},{"s":0,"x":1.45,"y":0.02},{"s":0,"x":1.6,"y":0.03},{"s":0,"x":1.7,"y":0.05},{"s":0,"x":1.8,"y":0.08},{"s":0,"x":1.9,"y":0.1},{"s":0,"x":1.95,"y":0.11},{"s":0,"x":2,"y":0.11},{"s":0,"x":2.05,"y":0.12},{"s":0,"x":2.1,"y":0.12},{"s":0,"x":2.15,"y":0.11},{"s":0,"x":2.2,"y":0.11},{"s":0,"x":2.25,"y":0.1},{"s":0,"x":2.35,"y":0.08},{"s":0,"x":2.5,"y":0.06},{"s":0,"x":2.65,"y":0.05},{"s":0,"x":2.8,"y":0.04},{"s":0,"x":3,"y":0.04},
{"s":1,"x":1,"y":0.02},{"s":1,"x":1.15,"y":0.03},{"s":1,"x":1.3,"y":0.02},{"s":1,"x":1.45,"y":0.03},{"s":1,"x":1.6,"y":0.03},{"s":1,"x":1.7,"y":0.04},{"s":1,"x":1.8,"y":0.04},{"s":1,"x":1.9,"y":0.05},{"s":1,"x":1.95,"y":0.05},{"s":1,"x":2,"y":0.05},{"s":1,"x":2.05,"y":0.06},{"s":1,"x":2.1,"y":0.05},{"s":1,"x":2.15,"y":0.05},{"s":1,"x":2.2,"y":0.05},{"s":1,"x":2.25,"y":0.04},{"s":1,"x":2.35,"y":0.04},{"s":1,"x":2.5,"y":0.03},{"s":1,"x":2.65,"y":0.04},{"s":1,"x":2.8,"y":0.03},{"s":1,"x":3,"y":0.03},
{"s":2,"x":1,"y":0.03},{"s":2,"x":1.15,"y":0.04},{"s":2,"x":1.3,"y":0.04},{"s":2,"x":1.45,"y":0.05},{"s":2,"x":1.6,"y":0.05},{"s":2,"x":1.7,"y":0.05},{"s":2,"x":1.8,"y":0.06},{"s":2,"x":1.9,"y":0.07},{"s":2,"x":1.95,"y":0.07},{"s":2,"x":2,"y":0.08},{"s":2,"x":2.05,"y":0.08},{"s":2,"x":2.1,"y":0.08},{"s":2,"x":2.15,"y":0.07},{"s":2,"x":2.2,"y":0.07},{"s":2,"x":2.25,"y":0.06},{"s":2,"x":2.35,"y":0.05},{"s":2,"x":2.5,"y":0.06},{"s":2,"x":2.65,"y":0.05},{"s":2,"x":2.8,"y":0.04},{"s":2,"x":3,"y":0.05},
{"s":3,"x":1,"y":0.04},{"s":3,"x":1.15,"y":0.05},{"s":3,"x":1.3,"y":0.04},{"s":3,"x":1.45,"y":0.06},{"s":3,"x":1.6,"y":0.1},{"s":3,"x":1.7,"y":0.3},{"s":3,"x":1.8,"y":0.5},{"s":3,"x":1.9,"y":0.62},{"s":3,"x":1.95,"y":0.68},{"s":3,"x":2,"y":0.7},{"s":3,"x":2.05,"y":0.6},{"s":3,"x":2.1,"y":0.1},{"s":3,"x":2.15,"y":0.08},{"s":3,"x":2.2,"y":0.09},{"s":3,"x":2.25,"y":0.08},{"s":3,"x":2.35,"y":0.07},{"s":3,"x":2.5,"y":0.06},{"s":3,"x":2.65,"y":0.07},{"s":3,"x":2.8,"y":0.06},{"s":3,"x":3,"y":0.07},
{"s":4,"x":1,"y":0.06},{"s":4,"x":1.15,"y":0.05},{"s":4,"x":1.3,"y":0.07},{"s":4,"x":1.45,"y":0.06},{"s":4,"x":1.6,"y":0.15},{"s":4,"x":1.7,"y":0.16},{"s":4,"x":1.8,"y":0.17},{"s":4,"x":1.9,"y":0.18},{"s":4,"x":1.95,"y":0.18},{"s":4,"x":2,"y":0.19},{"s":4,"x":2.05,"y":0.2},{"s":4,"x":2.1,"y":0.2},{"s":4,"x":2.15,"y":0.2},{"s":4,"x":2.2,"y":0.2},{"s":4,"x":2.25,"y":0.19},{"s":4,"x":2.35,"y":0.18},{"s":4,"x":2.5,"y":0.16},{"s":4,"x":2.65,"y":0.15},{"s":4,"x":2.8,"y":0.16},{"s":4,"x":3,"y":0.15},
{"s":5,"x":1,"y":0.11},{"s":5,"x":1.15,"y":0.13},{"s":5,"x":1.3,"y":0.13},{"s":5,"x":1.45,"y":0.16},{"s":5,"x":1.6,"y":0.17},{"s":5,"x":1.7,"y":0.19},{"s":5,"x":1.8,"y":0.22},{"s":5,"x":1.9,"y":0.26},{"s":5,"x":1.95,"y":0.3},{"s":5,"x":2,"y":0.3},{"s":5,"x":2.05,"y":0.32},{"s":5,"x":2.1,"y":0.33},{"s":5,"x":2.15,"y":0.38},{"s":5,"x":2.2,"y":0.4},{"s":5,"x":2.25,"y":0.2},{"s":5,"x":2.35,"y":0.12},{"s":5,"x":2.5,"y":0.1},{"s":5,"x":2.65,"y":0.11},{"s":5,"x":2.8,"y":0.09},{"s":5,"x":3,"y":0.1},
{"s":6,"x":1,"y":0.18},{"s":6,"x":1.15,"y":0.21},{"s":6,"x":1.3,"y":0.22},{"s":6,"x":1.45,"y":0.26},{"s":6,"x":1.6,"y":0.28},{"s":6,"x":1.7,"y":0.32},{"s":6,"x":1.8,"y":0.4},{"s":6,"x":1.9,"y":0.83},{"s":6,"x":1.95,"y":0.2},{"s":6,"x":2,"y":0.17},{"s":6,"x":2.05,"y":0.16},{"s":6,"x":2.1,"y":0.16},{"s":6,"x":2.15,"y":0.15},{"s":6,"x":2.2,"y":0.15},{"s":6,"x":2.25,"y":0.14},{"s":6,"x":2.35,"y":0.13},{"s":6,"x":2.5,"y":0.14},{"s":6,"x":2.65,"y":0.12},{"s":6,"x":2.8,"y":0.13},{"s":6,"x":3,"y":0.12},
{"s":7,"x":1,"y":0.28},{"s":7,"x":1.15,"y":0.31},{"s":7,"x":1.3,"y":0.32},{"s":7,"x":1.45,"y":0.36},{"s":7,"x":1.6,"y":0.38},{"s":7,"x":1.7,"y":0.41},{"s":7,"x":1.8,"y":0.45},{"s":7,"x":1.9,"y":0.5},{"s":7,"x":1.95,"y":0.55},{"s":7,"x":2,"y":0.62},{"s":7,"x":2.05,"y":0.25},{"s":7,"x":2.1,"y":0.22},{"s":7,"x":2.15,"y":0.21},{"s":7,"x":2.2,"y":0.2},{"s":7,"x":2.25,"y":0.19},{"s":7,"x":2.35,"y":0.18},{"s":7,"x":2.5,"y":0.17},{"s":7,"x":2.65,"y":0.18},{"s":7,"x":2.8,"y":0.16},{"s":7,"x":3,"y":0.17},
{"s":8,"x":1,"y":0.36},{"s":8,"x":1.15,"y":0.39},{"s":8,"x":1.3,"y":0.4},{"s":8,"x":1.45,"y":0.44},{"s":8,"x":1.6,"y":0.46},{"s":8,"x":1.7,"y":0.48},{"s":8,"x":1.8,"y":0.51},{"s":8,"x":1.9,"y":0.55},{"s":8,"x":1.95,"y":0.58},{"s":8,"x":2,"y":0.62},{"s":8,"x":2.05,"y":0.66},{"s":8,"x":2.1,"y":0.3},{"s":8,"x":2.15,"y":0.4},{"s":8,"x":2.2,"y":0.32},{"s":8,"x":2.25,"y":0.22},{"s":8,"x":2.35,"y":0.2},{"s":8,"x":2.5,"y":0.21},{"s":8,"x":2.65,"y":0.19},{"s":8,"x":2.8,"y":0.2},{"s":8,"x":3,"y":0.19},
{"s":9,"x":1,"y":0.45},{"s":9,"x":1.15,"y":0.48},{"s":9,"x":1.3,"y":0.5},{"s":9,"x":1.45,"y":0.53},{"s":9,"x":1.6,"y":0.55},{"s":9,"x":1.7,"y":0.58},{"s":9,"x":1.8,"y":0.6},{"s":9,"x":1.9,"y":0.63},{"s":9,"x":1.95,"y":0.65},{"s":9,"x":2,"y":0.68},{"s":9,"x":2.05,"y":0.72},{"s":9,"x":2.1,"y":0.75},{"s":9,"x":2.15,"y":0.45},{"s":9,"x":2.2,"y":0.42},{"s":9,"x":2.25,"y":0.26},{"s":9,"x":2.35,"y":0.24},{"s":9,"x":2.5,"y":0.25},{"s":9,"x":2.65,"y":0.23},{"s":9,"x":2.8,"y":0.24},{"s":9,"x":3,"y":0.23},
{"s":10,"x":1,"y":0.52},{"s":10,"x":1.15,"y":0.56},{"s":10,"x":1.3,"y":0.57},{"s":10,"x":1.45,"y":0.61},{"s":10,"x":1.6,"y":0.63},{"s":10,"x":1.7,"y":0.66},{"s":10,"x":1.8,"y":0.69},{"s":10,"x":1.9,"y":0.72},{"s":10,"x":1.95,"y":0.74},{"s":10,"x":2,"y":0.77},{"s":10,"x":2.05,"y":0.8},{"s":10,"x":2.1,"y":0.83},{"s":10,"x":2.15,"y":0.85},{"s":10,"x":2.2,"y":0.3},{"s":10,"x":2.25,"y":0.28},{"s":10,"x":2.35,"y":0.29},{"s":10,"x":2.5,"y":0.27},{"s":10,"x":2.65,"y":0.28},{"s":10,"x":2.8,"y":0.27},{"s":10,"x":3,"y":0.28}
],
"f":[
{"s":0,"x":0.1,"y":0.01},{"s":0,"x":0.17,"y":0.01},{"s":0,"x":0.24,"y":0.01},{"s":0,"x":0.31,"y":0.01},{"s":0,"x":0.38,"y":0.01},{"s":0,"x":0.45,"y":0.01},{"s":0,"x":0.52,"y":0.02},{"s":0,"x":0.55,"y":0.03},{"s":0,"x":0.58,"y":0.04},{"s":0,"x":0.61,"y":0.04},{"s":0,"x":0.64,"y":0.03},{"s":0,"x":0.67,"y":0.02},{"s":0,"x":0.7,"y":0.01},{"s":0,"x":0.75,"y":0.01},{"s":0,"x":0.8,"y":0.01},{"s":0,"x":0.9,"y":0.01},
{"s":1,"x":0.1,"y":0.01},{"s":1,"x":0.17,"y":0.02},{"s":1,"x":0.24,"y":0.02},{"s":1,"x":0.31,"y":0.02},{"s":1,"x":0.38,"y":0.02},{"s":1,"x":0.45,"y":0.02},{"s":1,"x":0.52,"y":0.03},{"s":1,"x":0.55,"y":0.04},{"s":1,"x":0.58,"y":0.06},{"s":1,"x":0.61,"y":0.07},{"s":1,"x":0.64,"y":0.05},{"s":1,"x":0.67,"y":0.03},{"s":1,"x":0.7,"y":0.02},{"s":1,"x":0.75,"y":0.02},{"s":1,"x":0.8,"y":0.02},{"s":1,"x":0.9,"y":0.02},
{"s":2,"x":0.1,"y":0.02},{"s":2,"x":0.17,"y":0.02},{"s":2,"x":0.24,"y":0.02},{"s":2,"x":0.31,"y":0.03},{"s":2,"x":0.38,"y":0.03},{"s":2,"x":0.45,"y":0.03},{"s":2,"x":0.52,"y":0.03},{"s":2,"x":0.55,"y":0.05},{"s":2,"x":0.58,"y":0.08},{"s":2,"x":0.61,"y":0.09},{"s":2,"x":0.64,"y":0.07},{"s":2,"x":0.67,"y":0.04},{"s":2,"x":0.7,"y":0.03},{"s":2,"x":0.75,"y":0.02},{"s":2,"x":0.8,"y":0.02},{"s":2,"x":0.9,"y":0.02},
{"s":3,"x":0.1,"y":0.03},{"s":3,"x":0.17,"y":0.03},{"s":3,"x":0.24,"y":0.03},{"s":3,"x":0.31,"y":0.04},{"s":3,"x":0.38,"y":0.04},{"s":3,"x":0.45,"y":0.04},{"s":3,"x":0.52,"y":0.05},{"s":3,"x":0.55,"y":0.08},{"s":3,"x":0.58,"y":0.12},{"s":3,"x":0.61,"y":0.12},{"s":3,"x":0.64,"y":0.1},{"s":3,"x":0.67,"y":0.06},{"s":3,"x":0.7,"y":0.04},{"s":3,"x":0.75,"y":0.03},{"s":3,"x":0.8,"y":0.03},{"s":3,"x":0.9,"y":0.03},
{"s":4,"x":0.1,"y":0.05},{"s":4,"x":0.17,"y":0.05},{"s":4,"x":0.24,"y":0.05},{"s":4,"x":0.31,"y":0.06},{"s":4,"x":0.38,"y":0.06},{"s":4,"x":0.45,"y":0.06},{"s":4,"x":0.52,"y":0.07},{"s":4,"x":0.55,"y":0.1},{"s":4,"x":0.58,"y":0.14},{"s":4,"x":0.61,"y":0.15},{"s":4,"x":0.64,"y":0.12},{"s":4,"x":0.67,"y":0.08},{"s":4,"x":0.7,"y":0.05},{"s":4,"x":0.75,"y":0.05},{"s":4,"x":0.8,"y":0.05},{"s":4,"x":0.9,"y":0.05},
{"s":5,"x":0.1,"y":0.07},{"s":5,"x":0.17,"y":0.07},{"s":5,"x":0.24,"y":0.08},{"s":5,"x":0.31,"y":0.08},{"s":5,"x":0.38,"y":0.08},{"s":5,"x":0.45,"y":0.09},{"s":5,"x":0.52,"y":0.1},{"s":5,"x":0.55,"y":0.15},{"s":5,"x":0.58,"y":0.25},{"s":5,"x":0.61,"y":0.5},{"s":5,"x":0.64,"y":0.4},{"s":5,"x":0.67,"y":0.2},{"s":5,"x":0.7,"y":0.1},{"s":5,"x":0.75,"y":0.07},{"s":5,"x":0.8,"y":0.07},{"s":5,"x":0.9,"y":0.07},
{"s":6,"x":0.1,"y":0.1},{"s":6,"x":0.17,"y":0.1},{"s":6,"x":0.24,"y":0.11},{"s":6,"x":0.31,"y":0.11},{"s":6,"x":0.38,"y":0.12},{"s":6,"x":0.45,"y":0.12},{"s":6,"x":0.52,"y":0.13},{"s":6,"x":0.55,"y":0.3},{"s":6,"x":0.58,"y":0.35},{"s":6,"x":0.61,"y":0.34},{"s":6,"x":0.64,"y":0.3},{"s":6,"x":0.67,"y":0.15},{"s":6,"x":0.7,"y":0.1},{"s":6,"x":0.75,"y":0.09},{"s":6,"x":0.8,"y":0.1},{"s":6,"x":0.9,"y":0.09},
{"s":7,"x":0.1,"y":0.18},{"s":7,"x":0.17,"y":0.18},{"s":7,"x":0.24,"y":0.19},{"s":7,"x":0.31,"y":0.2},{"s":7,"x":0.38,"y":0.2},{"s":7,"x":0.45,"y":0.21},{"s":7,"x":0.52,"y":0.22},{"s":7,"x":0.55,"y":0.24},{"s":7,"x":0.58,"y":0.26},{"s":7,"x":0.61,"y":0.27},{"s":7,"x":0.64,"y":0.26},{"s":7,"x":0.67,"y":0.25},{"s":7,"x":0.7,"y":0.25},{"s":7,"x":0.75,"y":0.25},{"s":7,"x":0.8,"y":0.24},{"s":7,"x":0.9,"y":0.25},
{"s":8,"x":0.1,"y":0.24},{"s":8,"x":0.17,"y":0.25},{"s":8,"x":0.24,"y":0.26},{"s":8,"x":0.31,"y":0.27},{"s":8,"x":0.38,"y":0.28},{"s":8,"x":0.45,"y":0.29},{"s":8,"x":0.52,"y":0.31},{"s":8,"x":0.55,"y":0.33},{"s":8,"x":0.58,"y":0.36},{"s":8,"x":0.61,"y":0.38},{"s":8,"x":0.64,"y":0.36},{"s":8,"x":0.67,"y":0.35},{"s":8,"x":0.7,"y":0.35},{"s":8,"x":0.75,"y":0.35},{"s":8,"x":0.8,"y":0.34},{"s":8,"x":0.9,"y":0.35},
{"s":9,"x":0.1,"y":0.3},{"s":9,"x":0.17,"y":0.31},{"s":9,"x":0.24,"y":0.32},{"s":9,"x":0.31,"y":0.33},{"s":9,"x":0.38,"y":0.34},{"s":9,"x":0.45,"y":0.36},{"s":9,"x":0.52,"y":0.38},{"s":9,"x":0.55,"y":0.4},{"s":9,"x":0.58,"y":0.72},{"s":9,"x":0.61,"y":0.55},{"s":9,"x":0.64,"y":0.44},{"s":9,"x":0.67,"y":0.43},{"s":9,"x":0.7,"y":0.43},{"s":9,"x":0.75,"y":0.42},{"s":9,"x":0.8,"y":0.43},{"s":9,"x":0.9,"y":0.42},
{"s":10,"x":0.1,"y":0.37},{"s":10,"x":0.17,"y":0.38},{"s":10,"x":0.24,"y":0.39},{"s":10,"x":0.31,"y":0.4},{"s":10,"x":0.38,"y":0.41},{"s":10,"x":0.45,"y":0.43},{"s":10,"x":0.52,"y":0.45},{"s":10,"x":0.55,"y":0.46},{"s":10,"x":0.58,"y":0.48},{"s":10,"x":0.61,"y":0.55},{"s":10,"x":0.64,"y":0.65},{"s":10,"x":0.67,"y":0.52},{"s":10,"x":0.7,"y":0.5},{"s":10,"x":0.75,"y":0.5},{"s":10,"x":0.8,"y":0.5},{"s":10,"x":0.9,"y":0.5}
],
"i":[
{"s":0,"x":2,"y":0.02},{"s":0,"x":2.8,"y":0.02},{"s":0,"x":3.6,"y":0.02},{"s":0,"x":4.4,"y":0.03},{"s":0,"x":5,"y":0.03},{"s":0,"x":5.2,"y":0.03},{"s":0,"x":5.5,"y":0.03},{"s":0,"x":5.7,"y":0.03},{"s":0,"x":6,"y":0.04},{"s":0,"x":6.5,"y":0.04},{"s":0,"x":7,"y":0.05},{"s":0,"x":7.3,"y":0.05},{"s":0,"x":7.6,"y":0.05},{"s":0,"x":8,"y":0.06},{"s":0,"x":8.3,"y":0.06},{"s":0,"x":9,"y":0.06},{"s":0,"x":9.5,"y":0.06},{"s":0,"x":10.3,"y":0.06},{"s":0,"x":11.1,"y":0.06},{"s":0,"x":12,"y":0.06},
{"s":1,"x":2,"y":0.06},{"s":1,"x":2.8,"y":0.07},{"s":1,"x":3.6,"y":0.08},{"s":1,"x":4.4,"y":0.09},{"s":1,"x":5,"y":0.1},{"s":1,"x":5.2,"y":0.1},{"s":1,"x":5.5,"y":0.11},{"s":1,"x":5.7,"y":0.11},{"s":1,"x":6,"y":0.1},{"s":1,"x":6.5,"y":0.1},{"s":1,"x":7,"y":0.09},{"s":1,"x":7.3,"y":0.08},{"s":1,"x":7.6,"y":0.08},{"s":1,"x":8,"y":0.07},{"s":1,"x":8.3,"y":0.07},{"s":1,"x":9,"y":0.06},{"s":1,"x":9.5,"y":0.05},{"s":1,"x":10.3,"y":0.05},{"s":1,"x":11.1,"y":0.04},{"s":1,"x":12,"y":0.04},
{"s":2,"x":2,"y":0.1},{"s":2,"x":2.8,"y":0.12},{"s":2,"x":3.6,"y":0.14},{"s":2,"x":4.4,"y":0.16},{"s":2,"x":5,"y":0.18},{"s":2,"x":5.2,"y":0.19},{"s":2,"x":5.5,"y":0.2},{"s":2,"x":5.7,"y":0.2},{"s":2,"x":6,"y":0.19},{"s":2,"x":6.5,"y":0.17},{"s":2,"x":7,"y":0.15},{"s":2,"x":7.3,"y":0.14},{"s":2,"x":7.6,"y":0.13},{"s":2,"x":8,"y":0.12},{"s":2,"x":8.3,"y":0.11},{"s":2,"x":9,"y":0.1},{"s":2,"x":9.5,"y":0.09},{"s":2,"x":10.3,"y":0.08},{"s":2,"x":11.1,"y":0.07},{"s":2,"x":12,"y":0.06},
{"s":3,"x":2,"y":0.15},{"s":3,"x":2.8,"y":0.2},{"s":3,"x":3.6,"y":0.25},{"s":3,"x":4.4,"y":0.26},{"s":3,"x":5,"y":0.27},{"s":3,"x":5.2,"y":0.27},{"s":3,"x":5.5,"y":0.28},{"s":3,"x":5.7,"y":0.28},{"s":3,"x":6,"y":0.3},{"s":3,"x":6.5,"y":0.3},{"s":3,"x":7,"y":0.33},{"s":3,"x":7.3,"y":0.35},{"s":3,"x":7.6,"y":0.36},{"s":3,"x":8,"y":0.4},{"s":3,"x":8.3,"y":0.36},{"s":3,"x":9,"y":0.06},{"s":3,"x":9.5,"y":0.05},{"s":3,"x":10.3,"y":0.05},{"s":3,"x":11.1,"y":0.04},{"s":3,"x":12,"y":0.04},
{"s":4,"x":2,"y":0.2},{"s":4,"x":2.8,"y":0.22},{"s":4,"x":3.6,"y":0.24},{"s":4,"x":4.4,"y":0.26},{"s":4,"x":5,"y":0.28},{"s":4,"x":5.2,"y":0.3},{"s":4,"x":5.5,"y":0.32},{"s":4,"x":5.7,"y":0.33},{"s":4,"x":6,"y":0.35},{"s":4,"x":6.5,"y":0.45},{"s":4,"x":7,"y":0.55},{"s":4,"x":7.3,"y":0.65},{"s":4,"x":7.6,"y":0.2},{"s":4,"x":8,"y":0.18},{"s":4,"x":8.3,"y":0.17},{"s":4,"x":9,"y":0.15},{"s":4,"x":9.5,"y":0.13},{"s":4,"x":10.3,"y":0.12},{"s":4,"x":11.1,"y":0.1},{"s":4,"x":12,"y":0.09},
{"s":5,"x":2,"y":0.25},{"s":5,"x":2.8,"y":0.27},{"s":5,"x":3.6,"y":0.29},{"s":5,"x":4.4,"y":0.31},{"s":5,"x":5,"y":0.33},{"s":5,"x":5.2,"y":0.34},{"s":5,"x":5.5,"y":0.35},{"s":5,"x":5.7,"y":0.33},{"s":5,"x":6,"y":0.3},{"s":5,"x":6.5,"y":0.28},{"s":5,"x":7,"y":0.26},{"s":5,"x":7.3,"y":0.24},{"s":5,"x":7.6,"y":0.22},{"s":5,"x":8,"y":0.2},{"s":5,"x":8.3,"y":0.19},{"s":5,"x":9,"y":0.17},{"s":5,"x":9.5,"y":0.15},{"s":5,"x":10.3,"y":0.14},{"s":5,"x":11.1,"y":0.12},{"s":5,"x":12,"y":0.11},
{"s":6,"x":2,"y":0.3},{"s":6,"x":2.8,"y":0.33},{"s":6,"x":3.6,"y":0.37},{"s":6,"x":4.4,"y":0.42},{"s":6,"x":5,"y":0.5},{"s":6,"x":5.2,"y":0.83},{"s":6,"x":5.5,"y":0.3},{"s":6,"x":5.7,"y":0.27},{"s":6,"x":6,"y":0.25},{"s":6,"x":6.5,"y":0.23},{"s":6,"x":7,"y":0.22},{"s":6,"x":7.3,"y":0.2},{"s":6,"x":7.6,"y":0.19},{"s":6,"x":8,"y":0.17},{"s":6,"x":8.3,"y":0.16},{"s":6,"x":9,"y":0.14},{"s":6,"x":9.5,"y":0.13},{"s":6,"x":10.3,"y":0.11},{"s":6,"x":11.1,"y":0.1},{"s":6,"x":12,"y":0.09},
{"s":7,"x":2,"y":0.35},{"s":7,"x":2.8,"y":0.37},{"s":7,"x":3.6,"y":0.4},{"s":7,"x":4.4,"y":0.43},{"s":7,"x":5,"y":0.47},{"s":7,"x":5.2,"y":0.52},{"s":7,"x":5.5,"y":0.5},{"s":7,"x":5.7,"y":0.35},{"s":7,"x":6,"y":0.3},{"s":7,"x":6.5,"y":0.28},{"s":7,"x":7,"y":0.26},{"s":7,"x":7.3,"y":0.25},{"s":7,"x":7.6,"y":0.23},{"s":7,"x":8,"y":0.22},{"s":7,"x":8.3,"y":0.21},{"s":7,"x":9,"y":0.19},{"s":7,"x":9.5,"y":0.17},{"s":7,"x":10.3,"y":0.15},{"s":7,"x":11.1,"y":0.13},{"s":7,"x":12,"y":0.12},
{"s":8,"x":2,"y":0.4},{"s":8,"x":2.8,"y":0.42},{"s":8,"x":3.6,"y":0.45},{"s":8,"x":4.4,"y":0.48},{"s":8,"x":5,"y":0.52},{"s":8,"x":5.2,"y":0.55},{"s":8,"x":5.5,"y":0.6},{"s":8,"x":5.7,"y":0.5},{"s":8,"x":6,"y":0.35},{"s":8,"x":6.5,"y":0.33},{"s":8,"x":7,"y":0.3},{"s":8,"x":7.3,"y":0.28},{"s":8,"x":7.6,"y":0.27},{"s":8,"x":8,"y":0.25},{"s":8,"x":8.3,"y":0.24},{"s":8,"x":9,"y":0.3},{"s":8,"x":9.5,"y":0.22},{"s":8,"x":10.3,"y":0.18},{"s":8,"x":11.1,"y":0.16},{"s":8,"x":12,"y":0.15},
{"s":9,"x":2,"y":0.45},{"s":9,"x":2.8,"y":0.48},{"s":9,"x":3.6,"y":0.5},{"s":9,"x":4.4,"y":0.53},{"s":9,"x":5,"y":0.57},{"s":9,"x":5.2,"y":0.6},{"s":9,"x":5.5,"y":0.65},{"s":9,"x":5.7,"y":0.85},{"s":9,"x":6,"y":0.4},{"s":9,"x":6.5,"y":0.37},{"s":9,"x":7,"y":0.34},{"s":9,"x":7.3,"y":0.32},{"s":9,"x":7.6,"y":0.3},{"s":9,"x":8,"y":0.28},{"s":9,"x":8.3,"y":0.27},{"s":9,"x":9,"y":0.25},{"s":9,"x":9.5,"y":0.22},{"s":9,"x":10.3,"y":0.2},{"s":9,"x":11.1,"y":0.18},{"s":9,"x":12,"y":0.17},
{"s":10,"x":2,"y":0.5},{"s":10,"x":2.8,"y":0.52},{"s":10,"x":3.6,"y":0.55},{"s":10,"x":4.4,"y":0.58},{"s":10,"x":5,"y":0.62},{"s":10,"x":5.2,"y":0.7},{"s":10,"x":5.5,"y":0.93},{"s":10,"x":5.7,"y":0.45},{"s":10,"x":6,"y":0.43},{"s":10,"x":6.5,"y":0.4},{"s":10,"x":7,"y":0.37},{"s":10,"x":7.3,"y":0.35},{"s":10,"x":7.6,"y":0.33},{"s":10,"x":8,"y":0.3},{"s":10,"x":8.3,"y":0.3},{"s":10,"x":9,"y":0.27},{"s":10,"x":9.5,"y":0.25},{"s":10,"x":10.3,"y":0.23},{"s":10,"x":11.1,"y":0.21},{"s":10,"x":12,"y":0.2}
]
},
"spacing":-1,
"resolve":{"scale":{"color":"independent"},"legend":{"color":"independent"}},
"hconcat":[
{"title":{"text":"Overharvesting model","anchor":"middle","dx":24},"spacing":11,"bounds":"flush","resolve":{"scale":{"color":"independent"},"legend":{"color":"independent"}},"vconcat":[
{"width":225,"height":178,"data":{"name":"a"},"title":{"text":"a","anchor":"end","frame":"group","offset":-21,"dx":-7,"fontSize":16},"mark":{"type":"line","strokeWidth":1.8,"clip":true},"encoding":{
"x":{"field":"x","type":"quantitative","scale":{"domain":[1,3],"nice":false,"zero":false},"axis":{"values":[1,1.2,1.4,1.6,1.8,2,2.2,2.4,2.6,2.8,3],"labels":false,"title":null}},
"y":{"field":"y","type":"quantitative","scale":{"domain":[-0.03,1.04],"nice":false,"zero":false},"axis":{"values":[0,0.1,0.2,0.3,0.4,0.5,0.6,0.7,0.8,0.9,1],"labelExpr":"round(datum.value*10)%2==0?format(datum.value,'~g'):''","labelOverlap":false,"title":null}},
"color":{"field":"s","type":"nominal","scale":{"domain":[0,1,2,3,4,5,6,7,8,9,10],"range":["#1c1c1c","#6e6e6e","#949494","#0d0d0d","#7c7c7c","#cdcdcd","#505050","#a6a6a6","#b4b4b4","#c6c6c6","#e0e0e0"]},
"legend":{"orient":"top-left","offset":10,"title":"connectivity D","titleFontSize":15,"titleFontWeight":"normal","titleColor":"#1a1a1a","titlePadding":0,"columns":2,"columnPadding":8,"rowPadding":0,"clipHeight":12,"symbolType":"stroke","symbolStrokeWidth":3,"symbolSize":144,"labelFontSize":12,"labelColor":"#1a1a1a","labelOffset":1,"labelExpr":"['0','0.001','0.0025','0.005','0.01','0.025','0.05','0.1','0.25','0.5','1'][datum.value]"}}}},
{"width":225,"height":178,"data":{"name":"b"},"title":{"text":"b","anchor":"end","frame":"group","offset":-53,"dx":-7,"fontSize":16},"mark":{"type":"line","strokeWidth":1.8,"clip":true},"encoding":{
"x":{"field":"x","type":"quantitative","scale":{"domain":[1,3],"nice":false,"zero":false},"axis":{"values":[1,1.2,1.4,1.6,1.8,2,2.2,2.4,2.6,2.8,3],"labels":false,"title":null}},
"y":{"field":"y","type":"quantitative","scale":{"domain":[-0.03,1.04],"nice":false,"zero":false},"axis":{"values":[0,0.1,0.2,0.3,0.4,0.5,0.6,0.7,0.8,0.9,1],"labelExpr":"round(datum.value*10)%2==0?format(datum.value,'~g'):''","labelOverlap":false,"title":"spatial correlation of neighbours","titlePadding":8}},
"color":{"field":"s","type":"nominal","scale":{"domain":[0,1,2,3,4,5,6,7,8,9,10],"range":["#1c1c1c","#6e6e6e","#949494","#0d0d0d","#7c7c7c","#cdcdcd","#505050","#a6a6a6","#b4b4b4","#c6c6c6","#e0e0e0"]},"legend":null}}},
{"width":225,"height":178,"data":{"name":"c"},"title":{"text":"c","anchor":"end","frame":"group","offset":-21,"dx":-7,"fontSize":16},"mark":{"type":"line","strokeWidth":1.8,"clip":true},"encoding":{
"x":{"field":"x","type":"quantitative","scale":{"domain":[1,3],"nice":false,"zero":false},"axis":{"values":[1,1.2,1.4,1.6,1.8,2,2.2,2.4,2.6,2.8,3],"labelExpr":"round(datum.value*10-10)%4==0?format(datum.value,'~g'):''","title":"harvesting rate c","titlePadding":4,"labelOverlap":false}},
"y":{"field":"y","type":"quantitative","scale":{"domain":[-0.03,1.04],"nice":false,"zero":false},"axis":{"values":[0,0.1,0.2,0.3,0.4,0.5,0.6,0.7,0.8,0.9,1],"labelExpr":"round(datum.value*10)%2==0?format(datum.value,'~g'):''","labelOverlap":false,"title":null}},
"color":{"field":"s","type":"nominal","scale":{"domain":[0,1,2,3,4,5,6,7,8,9,10],"range":["#1c1c1c","#6e6e6e","#949494","#0d0d0d","#7c7c7c","#cdcdcd","#505050","#a6a6a6","#b4b4b4","#c6c6c6","#e0e0e0"]},"legend":null}}}
]},
{"title":{"text":"Eutrophication model","anchor":"middle"},"spacing":11,"bounds":"flush","resolve":{"scale":{"color":"independent"},"legend":{"color":"independent"}},"vconcat":[
{"width":225,"height":178,"data":{"name":"d"},"title":{"text":"d","anchor":"end","frame":"group","offset":-21,"dx":-7,"fontSize":16},"mark":{"type":"line","strokeWidth":1.8,"clip":true},"encoding":{
"x":{"field":"x","type":"quantitative","scale":{"domain":[0.1,0.9],"nice":false,"zero":false},"axis":{"values":[0.1,0.2,0.3,0.4,0.5,0.6,0.7,0.8,0.9],"labels":false,"title":null}},
"y":{"field":"y","type":"quantitative","scale":{"domain":[-0.03,1.04],"nice":false,"zero":false},"axis":{"values":[0,0.1,0.2,0.3,0.4,0.5,0.6,0.7,0.8,0.9,1],"labels":false,"title":null}},
"color":{"field":"s","type":"nominal","scale":{"domain":[0,1,2,3,4,5,6,7,8,9,10],"range":["#1c1c1c","#6e6e6e","#949494","#0d0d0d","#7c7c7c","#cdcdcd","#505050","#a6a6a6","#b4b4b4","#c6c6c6","#e0e0e0"]},"legend":null}}},
{"width":225,"height":178,"data":{"name":"e"},"title":{"text":"e","anchor":"end","frame":"group","offset":-21,"dx":-7,"fontSize":16},"mark":{"type":"line","strokeWidth":1.8,"clip":true},"encoding":{
"x":{"field":"x","type":"quantitative","scale":{"domain":[0.1,0.9],"nice":false,"zero":false},"axis":{"values":[0.1,0.2,0.3,0.4,0.5,0.6,0.7,0.8,0.9],"labels":false,"title":null}},
"y":{"field":"y","type":"quantitative","scale":{"domain":[-0.03,1.04],"nice":false,"zero":false},"axis":{"values":[0,0.1,0.2,0.3,0.4,0.5,0.6,0.7,0.8,0.9,1],"labels":false,"title":null}},
"color":{"field":"s","type":"nominal","scale":{"domain":[0,1,2,3,4,5,6,7,8,9,10],"range":["#1c1c1c","#6e6e6e","#949494","#0d0d0d","#7c7c7c","#cdcdcd","#505050","#a6a6a6","#b4b4b4","#c6c6c6","#e0e0e0"]},"legend":null}}},
{"width":225,"height":178,"data":{"name":"f"},"title":{"text":"f","anchor":"end","frame":"group","offset":-21,"dx":-7,"fontSize":16},"mark":{"type":"line","strokeWidth":1.8,"clip":true},"encoding":{
"x":{"field":"x","type":"quantitative","scale":{"domain":[0.1,0.9],"nice":false,"zero":false},"axis":{"values":[0.1,0.2,0.3,0.4,0.5,0.6,0.7,0.8,0.9],"labelExpr":"round(datum.value*10)%2==1?format(datum.value,'~g'):''","title":"nutrient loading rate α","titlePadding":4,"labelOverlap":false}},
"y":{"field":"y","type":"quantitative","scale":{"domain":[-0.03,1.04],"nice":false,"zero":false},"axis":{"values":[0,0.1,0.2,0.3,0.4,0.5,0.6,0.7,0.8,0.9,1],"labels":false,"title":null}},
"color":{"field":"s","type":"nominal","scale":{"domain":[0,1,2,3,4,5,6,7,8,9,10],"range":["#1c1c1c","#6e6e6e","#949494","#0d0d0d","#7c7c7c","#cdcdcd","#505050","#a6a6a6","#b4b4b4","#c6c6c6","#e0e0e0"]},"legend":null}}}
]},
{"title":{"text":"Vegetation - Turbidity model","anchor":"middle","dx":-8},"spacing":11,"bounds":"flush","resolve":{"scale":{"color":"independent"},"legend":{"color":"independent"}},"vconcat":[
{"width":225,"height":178,"data":{"name":"g"},"title":{"text":"g","anchor":"end","frame":"group","offset":-21,"dx":-7,"fontSize":16},"mark":{"type":"line","strokeWidth":1.8,"clip":true},"encoding":{
"x":{"field":"x","type":"quantitative","scale":{"domain":[2,12],"nice":false,"zero":false},"axis":{"values":[2,3,4,5,6,7,8,9,10,11,12],"labels":false,"title":null}},
"y":{"field":"y","type":"quantitative","scale":{"domain":[-0.03,1.04],"nice":false,"zero":false},"axis":{"orient":"right","values":[0,0.1,0.2,0.3,0.4,0.5,0.6,0.7,0.8,0.9,1],"labels":false,"title":"no heterogeneity","titlePadding":1,"titleFontSize":15}},
"color":{"field":"s","type":"nominal","scale":{"domain":[0,1,2,3,4,5,6,7,8,9,10],"range":["#1c1c1c","#6e6e6e","#949494","#0d0d0d","#7c7c7c","#cdcdcd","#505050","#a6a6a6","#b4b4b4","#c6c6c6","#e0e0e0"]},"legend":null}}},
{"width":225,"height":178,"data":{"name":"h"},"title":{"text":"h","anchor":"end","frame":"group","offset":-21,"dx":-7,"fontSize":16},"mark":{"type":"line","strokeWidth":1.8,"clip":true},"encoding":{
"x":{"field":"x","type":"quantitative","scale":{"domain":[2,12],"nice":false,"zero":false},"axis":{"values":[2,3,4,5,6,7,8,9,10,11,12],"labels":false,"title":null}},
"y":{"field":"y","type":"quantitative","scale":{"domain":[-0.03,1.04],"nice":false,"zero":false},"axis":{"orient":"right","values":[0,0.1,0.2,0.3,0.4,0.5,0.6,0.7,0.8,0.9,1],"labels":false,"title":"low heterogeneity","titlePadding":1,"titleFontSize":15}},
"color":{"field":"s","type":"nominal","scale":{"domain":[0,1,2,3,4,5,6,7,8,9,10],"range":["#1c1c1c","#6e6e6e","#949494","#0d0d0d","#7c7c7c","#cdcdcd","#505050","#a6a6a6","#b4b4b4","#c6c6c6","#e0e0e0"]},"legend":null}}},
{"width":225,"height":178,"data":{"name":"i"},"title":{"text":"i","anchor":"end","frame":"group","offset":-21,"dx":-7,"fontSize":16},"mark":{"type":"line","strokeWidth":1.8,"clip":true},"encoding":{
"x":{"field":"x","type":"quantitative","scale":{"domain":[2,12],"nice":false,"zero":false},"axis":{"values":[2,3,4,5,6,7,8,9,10,11,12],"labelExpr":"datum.value%2==0?format(datum.value,'~g'):''","title":"background turbidity Eo","titlePadding":4,"labelOverlap":false}},
"y":{"field":"y","type":"quantitative","scale":{"domain":[-0.03,1.04],"nice":false,"zero":false},"axis":{"orient":"right","values":[0,0.1,0.2,0.3,0.4,0.5,0.6,0.7,0.8,0.9,1],"labels":false,"title":"high heterogeneity","titlePadding":1,"titleFontSize":15}},
"color":{"field":"s","type":"nominal","scale":{"domain":[0,1,2,3,4,5,6,7,8,9,10],"range":["#1c1c1c","#6e6e6e","#949494","#0d0d0d","#7c7c7c","#cdcdcd","#505050","#a6a6a6","#b4b4b4","#c6c6c6","#e0e0e0"]},"legend":null}}}
]}
]
}
